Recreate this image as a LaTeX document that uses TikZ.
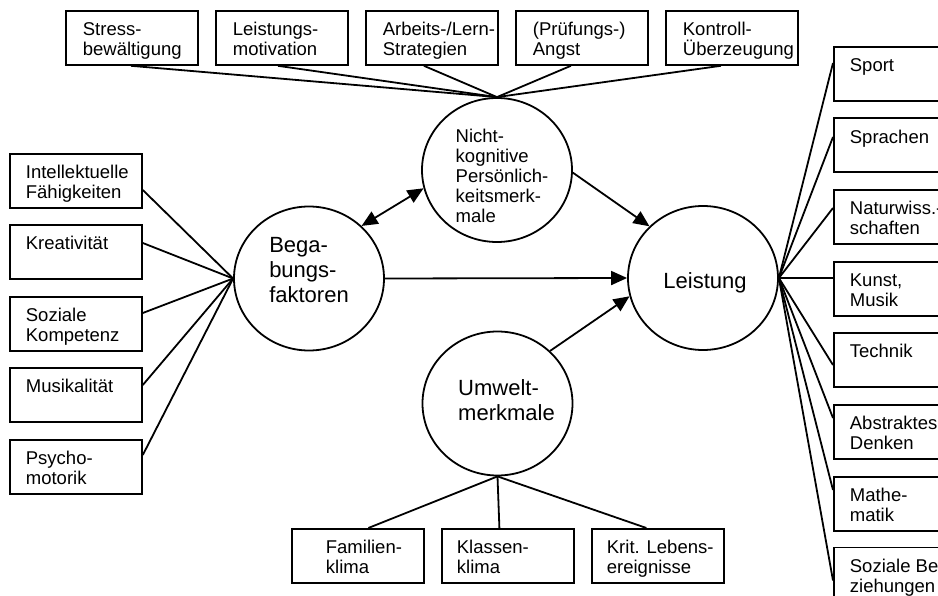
\documentclass[tikz,border=0pt]{standalone}
\usepackage{fontspec}
\setmainfont{Liberation Sans}
\usetikzlibrary{arrows.meta,shapes.geometric}
\newcommand{\fsm}{\fontsize{18.5}{20}\selectfont}
\newcommand{\flg}{\fontsize{22}{25}\selectfont}
\newcommand{\bxt}[2]{\parbox[c][54pt][t]{132pt}{\leftskip=#1pt\fsm\rule{0pt}{25pt}#2}}
\newcommand{\ctt}[4]{\raisebox{#2pt}[0pt][0pt]{\makebox[0pt]{\hspace*{#1pt}#3\begin{tabular}{@{}l@{}}#4\end{tabular}}}}
\tikzset{
  box/.style={draw, line width=1.8pt, inner sep=0pt, anchor=north west, minimum width=132pt, minimum height=54pt},
  circ/.style={draw, ellipse, line width=1.8pt, inner sep=0pt, minimum width=150pt, minimum height=144pt},
  ln/.style={line width=1.8pt},
  arr/.style={ln, -{Triangle[length=16pt,width=14pt]}},
  darr/.style={ln, {Triangle[length=16pt,width=14pt]}-{Triangle[length=16pt,width=14pt]}}
}
\begin{document}
\begin{tikzpicture}[x=1pt,y=-1pt]
\useasboundingbox (0,0) rectangle (938,596);
\begin{scope}
\clip (0,0) rectangle (938,596);
% circles
\node[circ] (nk) at (497,170) {\ctt{10}{-12.5}{\fsm}{Nicht-\\kognitive\\Persönlich-\\keitsmerk-\\male}};
\node[circ] (bf) at (309,278.5) {\ctt{0}{1}{\flg}{Bega-\\bungs-\\faktoren}};
\node[circ] (le) at (703,278) {\ctt{4}{-10.5}{\flg}{Leistung}};
\node[circ] (um) at (497.5,403.5) {\ctt{18}{-4.5}{\flg}{Umwelt-\\merkmale}};
% top boxes
\node[box] (t1) at (65,10) {\bxt{17}{Stress-\\bewältigung}};
\node[box] (t2) at (215,10) {\bxt{17}{Leistungs-\\motivation}};
\node[box] (t3) at (365,10) {\bxt{17}{Arbeits-/Lern-\\Strategien}};
\node[box] (t4) at (515,10) {\bxt{17}{(Prüfungs-)\\Angst}};
\node[box] (t5) at (665,10) {\bxt{17}{Kontroll-\\Überzeugung}};
% left boxes
\node[box] (l1) at (9,153) {\bxt{16}{Intellektuelle\\Fähigkeiten}};
\node[box] (l2) at (9,224) {\bxt{16}{Kreativität}};
\node[box] (l3) at (9,296) {\bxt{16}{Soziale\\Kompetenz}};
\node[box] (l4) at (9,367) {\bxt{16}{Musikalität}};
\node[box] (l5) at (9,439) {\bxt{16}{Psycho-\\motorik}};
% right boxes
\node[box] (r1) at (833,46) {\bxt{16}{Sport}};
\node[box] (r2) at (833,117.5) {\bxt{16}{Sprachen}};
\node[box] (r3) at (833,189) {\bxt{16}{Naturwiss.-\\schaften}};
\node[box] (r4) at (833,261) {\bxt{16}{Kunst,\\Musik}};
\node[box] (r5) at (833,332) {\bxt{16}{Technik}};
\node[box] (r6) at (833,404) {\bxt{16}{Abstraktes\\Denken}};
\node[box] (r7) at (833,476) {\bxt{16}{Mathe-\\matik}};
\node[box] (r8) at (833,546.5) {\bxt{16}{Soziale Be-\\ziehungen}};
% bottom boxes
\node[box] (b1) at (291,528) {\bxt{34}{Familien-\\klima}};
\node[box] (b2) at (441,528) {\bxt{15}{Klassen-\\klima}};
\node[box] (b3) at (591,528) {\bxt{15}{Krit. Lebens-\\ereignisse}};
% top connectors
\draw[ln] ([xshift=-1pt]t1.south) -- (nk.north);
\draw[ln] ([xshift=-4pt]t2.south) -- (nk.north);
\draw[ln] ([xshift=-8pt]t3.south) -- (nk.north);
\draw[ln] ([xshift=-11pt]t4.south) -- (nk.north);
\draw[ln] ([xshift=-11pt]t5.south) -- (nk.north);
% left connectors
\draw[ln] ([yshift=-37pt]l1.north east) -- (bf.west);
\draw[ln] ([yshift=-19pt]l2.north east) -- (bf.west);
\draw[ln] ([yshift=-17pt]l3.north east) -- (bf.west);
\draw[ln] ([yshift=-18pt]l4.north east) -- (bf.west);
\draw[ln] ([yshift=-16pt]l5.north east) -- (bf.west);
% right connectors
\draw[ln] (le.east) -- ([yshift=-17pt]r1.north west);
\draw[ln] (le.east) -- ([yshift=-19.5pt]r2.north west);
\draw[ln] (le.east) -- ([yshift=-19pt]r3.north west);
\draw[ln] (le.east) -- ([yshift=-17pt]r4.north west);
\draw[ln] (le.east) -- ([yshift=-33pt]r5.north west);
\draw[ln] (le.east) -- ([yshift=-14pt]r6.north west);
\draw[ln] (le.east) -- ([yshift=-14pt]r7.north west);
\draw[ln] (le.east) -- ([yshift=-34pt]r8.north west);
% bottom connectors
\draw[ln] (um.south) -- ([xshift=10.5pt]b1.north);
\draw[ln] (um.south) -- ([xshift=-8.5pt]b2.north);
\draw[ln] (um.south) -- ([xshift=-11.5pt]b3.north);
% arrows
\draw[darr] (bf.45) -- (nk.194);
\draw[arr] (nk.358) -- (le.136);
\draw[arr] (bf.east) -- (le.west);
\draw[arr] (um.45) -- (le.194);
\end{scope}
\end{tikzpicture}
\end{document}
